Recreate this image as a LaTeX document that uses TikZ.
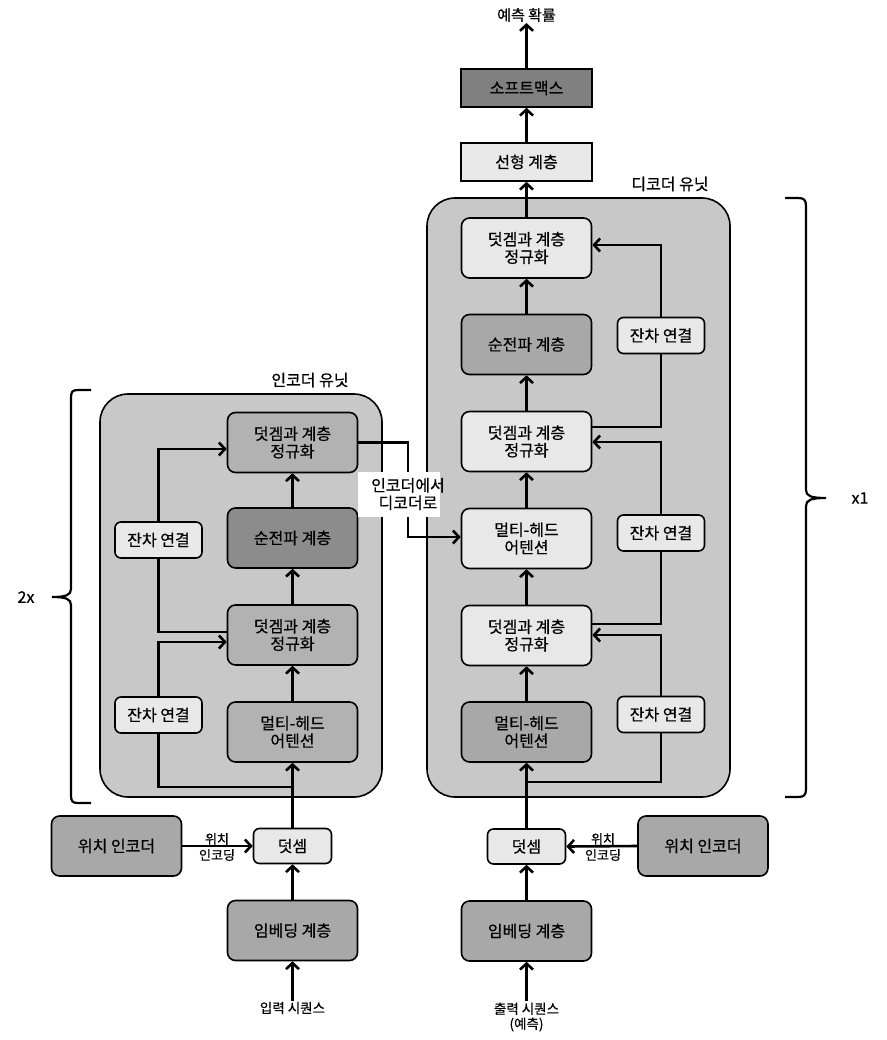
\documentclass[tikz,border=0pt]{standalone}
\usepackage{fontspec}
\setmainfont{Noto Sans CJK KR}[FakeBold=0.5]
\usetikzlibrary{arrows.meta}
\definecolor{contc}{HTML}{C8C8C8}
\definecolor{lightc}{HTML}{E8E8E8}
\definecolor{midc}{HTML}{B2B2B2}
\definecolor{decmid}{HTML}{A8A8A8}
\definecolor{darkc}{HTML}{8C8C8C}
\definecolor{softc}{HTML}{808080}
\begin{document}
\begin{tikzpicture}[x=1pt,y=-1pt,
  blk/.style={draw, line width=1.6pt, rounded corners=8pt, minimum width=130pt, minimum height=60pt, align=center, font=\fontsize{16}{17.5}\selectfont, inner sep=0pt},
  sqblk/.style={draw, line width=1.6pt, minimum width=131pt, minimum height=38pt, align=center, font=\fontsize{16}{17.5}\selectfont, inner sep=0pt},
  resbox/.style={draw, line width=1.6pt, rounded corners=6pt, fill=lightc, minimum width=87pt, minimum height=36pt, font=\fontsize{16}{17.5}\selectfont, inner sep=0pt},
  unit/.style={draw, line width=1.6pt, fill=contc, rounded corners=28pt, inner sep=0pt},
  lbl/.style={font=\fontsize{16}{17.5}\selectfont, inner sep=1pt},
  small/.style={font=\fontsize{13}{16}\selectfont, align=center, inner sep=1pt},
  conn/.style={line width=2.6pt},
  arr/.style={conn, -{Straight Barb[length=6pt,width=13pt]}},
  brc/.style={line width=2.2pt}
]
\useasboundingbox (0,0) rectangle (886,1040);

% ---------- containers ----------
\node[unit, minimum width=282pt, minimum height=403pt] (encU) at (241,595.5) {};
\node[unit, minimum width=303pt, minimum height=599pt] (decU) at (578.5,497.5) {};
\node[lbl] (encL) at (310,380) {인코더 유닛};
\node[lbl] (decL) at (670,184) {디코더 유닛};

% ---------- encoder blocks ----------
\node[blk, fill=midc] (e_mha) at (292.5,732) {멀티-헤드\\어텐션};
\node[blk, fill=midc] (e_an1) at (292.5,635) {덧겜과 계층\\정규화};
\node[blk, fill=darkc] (e_ffn) at (292.5,538) {순전파 계층};
\node[blk, fill=midc] (e_an2) at (292.5,442.5) {덧겜과 계층\\정규화};
\node[resbox] (er1) at (158.5,715) {잔차 연결};
\node[resbox] (er2) at (158.5,540) {잔차 연결};

% ---------- decoder blocks ----------
\node[blk, fill=decmid] (d_mha1) at (526.5,732) {멀티-헤드\\어텐션};
\node[blk, fill=lightc] (d_an1) at (526.5,635.5) {덧겜과 계층\\정규화};
\node[blk, fill=lightc] (d_mha2) at (526.5,538.5) {멀티-헤드\\어텐션};
\node[blk, fill=lightc] (d_an2) at (526.5,441.5) {덧겜과 계층\\정규화};
\node[blk, fill=decmid] (d_ffn) at (526.5,344.5) {순전파 계층};
\node[blk, fill=lightc] (d_an3) at (526.5,248) {덧겜과 계층\\정규화};
\node[resbox] (dr1) at (661,714.5) {잔차 연결};
\node[resbox] (dr2) at (661,533) {잔차 연결};
\node[resbox] (dr3) at (661,335.5) {잔차 연결};

% ---------- top ----------
\node[sqblk, fill=lightc] (lin) at (526.5,162) {선형 계층};
\node[sqblk, fill=softc] (soft) at (526.5,88) {소프트맥스};
\node[lbl, font=\fontsize{15}{17}\selectfont] (outL) at (526.5,15) {예측 확률};

% ---------- bottom ----------
\node[blk, fill=decmid, minimum width=130pt] (e_pos) at (116.5,846) {위치 인코더};
\node[blk, fill=lightc, minimum width=78pt, minimum height=35pt, rounded corners=6pt] (e_add) at (292.5,846) {덧셈};
\node[blk, fill=decmid] (e_emb) at (292.5,930.5) {임베딩 계층};
\node[small, font=\fontsize{13.5}{16}\selectfont] (inL) at (292.5,1008) {입력 시퀀스};

\node[blk, fill=decmid, minimum width=130pt] (d_pos) at (703,846) {위치 인코더};
\node[blk, fill=lightc, minimum width=78pt, minimum height=35pt, rounded corners=6pt] (d_add) at (526.5,846.5) {덧셈};
\node[blk, fill=decmid] (d_emb) at (526.5,931) {임베딩 계층};
\node[small, font=\fontsize{13.5}{15}\selectfont] (outSeq) at (526.5,1017) {출력 시퀀스\\(예측)};

% ---------- encoder connectors ----------
\draw[arr] (inL.north) -- (e_emb.south);
\draw[arr] (e_emb.north) -- (e_add.south);
\draw[arr] (e_pos.east) -- (e_add.west);
\node[small] (e_posL) at (217,847) {위치\\인코딩};
\draw[arr] (e_add.north) -- (e_mha.south);
\draw[arr] (e_mha.north) -- (e_an1.south);
\draw[arr] (e_an1.north) -- (e_ffn.south);
\draw[arr] (e_ffn.north) -- (e_an2.south);
% residuals
\coordinate (ej) at (292.5,787);
\draw[conn] (ej) -- (158.5,787) -- (er1.south);
\draw[arr] (er1.north) |- (e_an1.west |- 0,642);
\draw[conn] (e_an1.west |- 0,632) -- (158.5,632) -- (er2.south);
\draw[arr] (er2.north) |- (e_an2.west |- 0,449);

% encoder to decoder
\draw[arr] (e_an2.east) -- (408,442.5) -- (408,537) -- (d_mha2.west |- 0,537);
\node[fill=white, minimum width=82pt, minimum height=45pt, inner sep=0pt] (e2dbg) at (399,494.5) {};
\node[lbl, align=center] (e2d) at (408,494) {인코더에서\\디코더로};

% ---------- decoder connectors ----------
\draw[arr] (outSeq.north) -- (d_emb.south);
\draw[arr] (d_emb.north) -- (d_add.south);
\draw[arr] (d_pos.west) -- (d_add.east);
\node[small] (d_posL) at (603,847) {위치\\인코딩};
\draw[arr] (d_add.north) -- (d_mha1.south);
\draw[arr] (d_mha1.north) -- (d_an1.south);
\draw[arr] (d_an1.north) -- (d_mha2.south);
\draw[arr] (d_mha2.north) -- (d_an2.south);
\draw[arr] (d_an2.north) -- (d_ffn.south);
\draw[arr] (d_ffn.north) -- (d_an3.south);
\draw[arr] (d_an3.north) -- (lin.south);
\draw[arr] (lin.north) -- (soft.south);
\draw[arr] (soft.north) -- (outL.south);
% residuals
\coordinate (dj) at (526.5,782);
\draw[conn] (dj) -- (661,782) -- (dr1.south);
\draw[arr] (dr1.north) |- (d_an1.east |- 0,635);
\draw[conn] (d_an1.east |- 0,624) -- (661,624) -- (dr2.south);
\draw[arr] (dr2.north) |- (d_an2.east |- 0,442);
\draw[conn] (d_an2.east |- 0,427) -- (661,427) -- (dr3.south);
\draw[arr] (dr3.north) |- (d_an3.east |- 0,245);

% ---------- braces ----------
\draw[brc] (91,390) -- (78,390) .. controls (72,390) and (71,392) .. (71,398) -- (71,589) .. controls (71,595) and (66,597) .. (52,597) .. controls (66,597) and (71,599) .. (71,605) -- (71,795) .. controls (71,801) and (72,803) .. (78,803) -- (91,803);
\node[lbl] (twox) at (26,597) {2x};
\draw[brc] (785,198) -- (798,198) .. controls (804,198) and (806,200) .. (806,206) -- (806,490) .. controls (806,496) and (811,498) .. (826,498) .. controls (811,498) and (806,500) .. (806,506) -- (806,789) .. controls (806,795) and (804,797) .. (798,797) -- (785,797);
\node[lbl] (onex) at (860,498) {x1};
\end{tikzpicture}
\end{document}
